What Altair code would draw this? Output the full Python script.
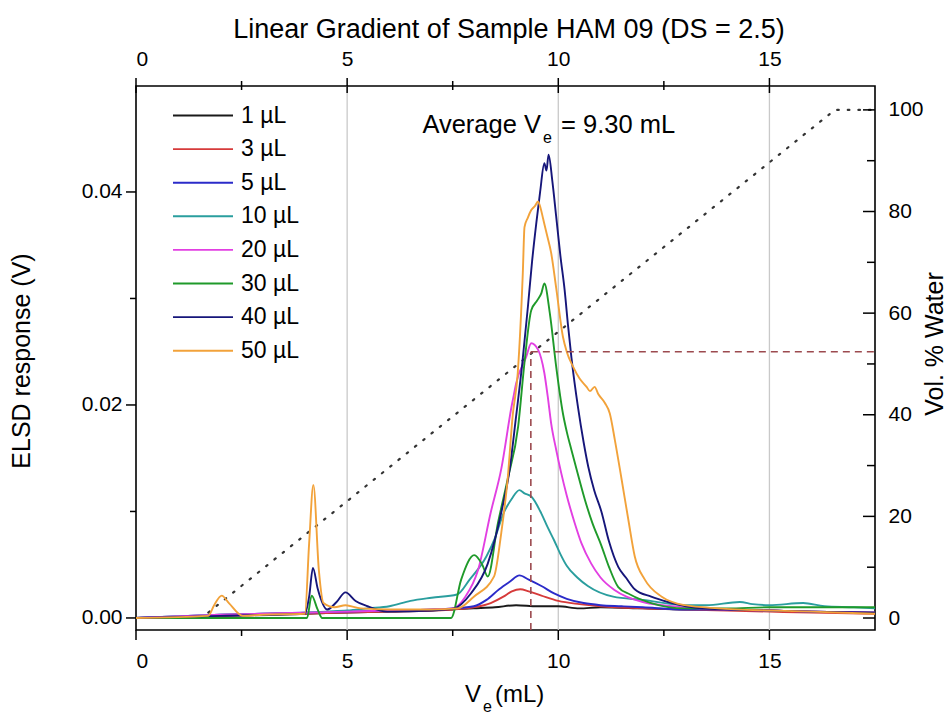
import altair as alt
import pandas as pd

FONT = "Liberation Sans"

# ---------------- data ----------------
series_names = ["1 µL", "3 µL", "5 µL", "10 µL", "20 µL", "30 µL", "40 µL", "50 µL"]
series_colors = ["#1a1a1a", "#d63a3a", "#2b2bc9", "#2a9e9e", "#e23fe2", "#1f9a2a", "#16167a", "#f2a23a"]

x_1 = [0, 1, 2, 3, 4, 5, 6, 7, 7.5, 8, 8.5, 9, 9.5, 10, 10.5, 11, 12, 13, 14, 15, 16, 17.5]
v_1 = [0.0000, 0.0001, 0.0002, 0.0003, 0.0004, 0.0005, 0.0006, 0.0007, 0.0008, 0.0009, 0.0010,
       0.0012, 0.0011, 0.0011, 0.0009, 0.0010, 0.0009, 0.0008, 0.0008, 0.0007, 0.0006, 0.0005]

x_3 = [0, 2, 4, 5, 6, 7, 7.5, 8, 8.4, 8.7, 8.9, 9.1, 9.3, 9.6, 10.0, 10.5, 11, 12, 13, 14, 15, 16, 17.5]
v_3 = [0.0000, 0.0002, 0.0004, 0.0005, 0.0006, 0.0007, 0.0008, 0.0010, 0.0014, 0.0020, 0.0025,
       0.0027, 0.0025, 0.0021, 0.0016, 0.0013, 0.0011, 0.0009, 0.0008, 0.0007, 0.0006, 0.0005, 0.0004]

x_5 = [0, 2, 4, 5, 6, 7, 7.5, 8.0, 8.3, 8.6, 8.85, 9.08, 9.3, 9.6, 9.9, 10.2, 10.6, 11.0, 11.5,
       12, 13, 14, 15, 16, 17.5]
v_5 = [0.0000, 0.0003, 0.0005, 0.0006, 0.0007, 0.0008, 0.0009, 0.0011, 0.0017, 0.0027, 0.0034,
       0.0040, 0.0036, 0.0030, 0.0023, 0.0018, 0.0014, 0.0012, 0.0011, 0.0010, 0.0008, 0.0008,
       0.0007, 0.0006, 0.0005]

x_10 = [0, 2, 3, 4, 4.5, 5, 5.5, 6, 6.5, 7, 7.6, 7.9, 8.3, 8.5, 8.7, 8.9, 9.08, 9.2, 9.36, 9.6,
        9.75, 9.9, 10.05, 10.2, 10.45, 10.7, 11.3, 12, 13, 13.5, 14.3, 14.6, 15, 15.8, 16.3, 17, 17.5]
v_10 = [0.0000, 0.0003, 0.0004, 0.0005, 0.0006, 0.0007, 0.0009, 0.0011, 0.0016, 0.0019, 0.0022,
        0.0036, 0.0058, 0.0075, 0.0098, 0.0112, 0.0120, 0.0117, 0.0114, 0.0098, 0.0085, 0.0073,
        0.0060, 0.0049, 0.0038, 0.0030, 0.0020, 0.0017, 0.0012, 0.0012, 0.0015, 0.0013, 0.0012,
        0.0014, 0.0011, 0.0010, 0.0009]

x_20 = [0, 2, 4, 5, 6, 7, 7.5, 7.8, 8.1, 8.4, 8.65, 8.9, 8.95, 9.0, 9.24, 9.36, 9.52, 9.67, 9.75,
        9.83, 9.95, 10.07, 10.2, 10.39, 10.55, 10.78, 11.0, 11.34, 12, 13, 14, 15, 16, 17.5]
v_20 = [0.0000, 0.0003, 0.0005, 0.0006, 0.0007, 0.0008, 0.0009, 0.0020, 0.0045, 0.0099, 0.0140,
        0.0200, 0.0210, 0.0220, 0.0245, 0.0258, 0.0252, 0.0230, 0.0208, 0.0183, 0.0158, 0.0136,
        0.0115, 0.0089, 0.0070, 0.0051, 0.0038, 0.0026, 0.0015, 0.0010, 0.0008, 0.0007, 0.0006,
        0.0005]

x_30 = [0, 4.05, 4.16, 4.3, 4.41, 7.46, 7.7, 8.01, 8.2, 8.33, 8.57, 8.8, 9.05, 9.2, 9.36, 9.5,
        9.6, 9.67, 9.8, 9.95, 10.11, 10.2, 10.31, 10.45, 10.63, 10.8, 11.02, 11.2, 11.42, 11.7,
        12.2, 13, 14, 15, 16, 17.5]
v_30 = [0.0000, 0.0000, 0.0021, 0.0008, 0.0000, 0.0000, 0.0036, 0.0059, 0.0050, 0.0039, 0.0089,
        0.0130, 0.0180, 0.0240, 0.0289, 0.0298, 0.0305, 0.0314, 0.0286, 0.0236, 0.0192, 0.0175,
        0.0158, 0.0137, 0.0111, 0.0090, 0.0068, 0.0048, 0.0029, 0.0022, 0.0014, 0.0009, 0.0009,
        0.0010, 0.0010, 0.0010]

x_40 = [0, 2, 4.0, 4.1, 4.19, 4.3, 4.53, 4.75, 4.96, 5.2, 5.48, 5.95, 7.0, 7.53, 7.93, 8.33, 8.65,
        8.85, 9.0, 9.15, 9.28, 9.38, 9.48, 9.57, 9.67, 9.72, 9.77, 9.86, 9.95, 10.05, 10.15, 10.23,
        10.31, 10.47, 10.6, 10.71, 10.85, 11.02, 11.2, 11.42, 11.6, 11.81, 12.2, 12.6, 13.4, 14,
        15, 16, 17.5]
v_40 = [0.0000, 0.0002, 0.0004, 0.0020, 0.0047, 0.0028, 0.0008, 0.0015, 0.0024, 0.0016, 0.0011,
        0.0006, 0.0007, 0.0009, 0.0023, 0.0051, 0.0099, 0.0140, 0.0189, 0.0240, 0.0292, 0.0335,
        0.0371, 0.0400, 0.0427, 0.0420, 0.0435, 0.0410, 0.0377, 0.0340, 0.0308, 0.0275, 0.0245,
        0.0197, 0.0165, 0.0142, 0.0120, 0.0100, 0.0072, 0.0048, 0.0038, 0.0027, 0.0020, 0.0015,
        0.0009, 0.0008, 0.0007, 0.0006, 0.0005]

x_50 = [0, 1.71, 1.85, 2.03, 2.2, 2.53, 3, 4.0, 4.1, 4.2, 4.33, 4.44, 4.7, 4.96, 5.32, 6, 7, 7.62,
        8.0, 8.48, 8.65, 8.8, 8.92, 9.04, 9.16, 9.2, 9.28, 9.36, 9.45, 9.52, 9.58, 9.64, 9.73, 9.83,
        9.95, 10.11, 10.2, 10.35, 10.5, 10.67, 10.75, 10.86, 10.95, 11.1, 11.22, 11.34, 11.5,
        11.66, 11.81, 12.05, 12.45, 13.0, 13.79, 15, 16, 17.5]
v_50 = [0.0000, 0.0002, 0.0012, 0.0021, 0.0014, 0.0002, 0.0003, 0.0004, 0.0070, 0.0125, 0.0045,
        0.0014, 0.0010, 0.0012, 0.0009, 0.0008, 0.0008, 0.0009, 0.0020, 0.0039, 0.0080, 0.0130,
        0.0190, 0.0230, 0.0324, 0.0367, 0.0376, 0.0383, 0.0387, 0.0391, 0.0385, 0.0375, 0.0360,
        0.0343, 0.0310, 0.0264, 0.0250, 0.0236, 0.0225, 0.0217, 0.0213, 0.0217, 0.0210, 0.0202,
        0.0192, 0.0167, 0.0130, 0.0092, 0.0058, 0.0036, 0.0020, 0.0012, 0.0009, 0.0007, 0.0006,
        0.0004]

series_x = [x_1, x_3, x_5, x_10, x_20, x_30, x_40, x_50]
series_v = [v_1, v_3, v_5, v_10, v_20, v_30, v_40, v_50]

# solvent gradient (right axis, % water)
grad_x = [0, 1.55, 16.55, 17.5]
grad_pct = [0, 0, 100, 100]

# average elution volume marker
ve_avg = [9.35]
water_at_ve = [52.4]

x_major = [0, 5, 10, 15]
x_minor = [2.5, 7.5, 12.5]
v_major = [0.00, 0.02, 0.04]
v_minor = [0.01, 0.03]
pct_major = [0, 20, 40, 60, 80, 100]
pct_minor = [10, 30, 50, 70, 90]

# ---------------- layout ----------------
W, H = 739, 544
X_DOM = [0, 17.5]
V_DOM = [-0.00113, 0.04995]
P_DOM = [-2.36, 104.7]

xs = alt.Scale(domain=X_DOM, nice=False, zero=False)
vs = alt.Scale(domain=V_DOM, nice=False, zero=False)
ps = alt.Scale(domain=P_DOM, nice=False, zero=False)

lab = dict(labelFont=FONT, labelFontSize=21, labelColor="black", ticks=False, tickSize=0,
           domain=False, grid=False, title=None)

bottom_axis = alt.Axis(orient="bottom", values=x_major, format="d", labelPadding=37,
                       labelBaseline="alphabetic", **lab)
top_axis = alt.Axis(orient="top", values=x_major, format="d", labelPadding=21,
                    labelBaseline="alphabetic", **lab)
left_axis = alt.Axis(orient="left", values=v_major, format=".2f", labelPadding=14, **lab)
right_axis = alt.Axis(orient="right", values=pct_major, format="d", labelPadding=13, **lab)

layers = []

# grid lines
grid_df = pd.DataFrame({"x": [5, 10, 15]})
layers.append(alt.Chart(grid_df).mark_rule(color="#c9c9c9", strokeWidth=1.3).encode(
    x=alt.X("x:Q", scale=xs, axis=None), y=alt.value(0), y2=alt.value(H)))

# gradient (right axis, top axis)
grad_df = pd.DataFrame({"x": grad_x, "pct": grad_pct})
layers.append(alt.Chart(grad_df).mark_line(color="#333333", strokeWidth=2.2,
                                           strokeDash=[1.6, 9], strokeCap="round").encode(
    x=alt.X("x:Q", scale=xs, axis=top_axis),
    y=alt.Y("pct:Q", scale=ps, axis=right_axis)))

# curves
for i, (name, xv, vv, col) in enumerate(zip(series_names, series_x, series_v, series_colors)):
    d = pd.DataFrame({"x": xv, "v": vv})
    layers.append(alt.Chart(d).mark_line(color=col, strokeWidth=1.9, interpolate="monotone").encode(
        x=alt.X("x:Q", scale=xs, axis=bottom_axis if i == 0 else None),
        y=alt.Y("v:Q", scale=vs, axis=left_axis if i == 0 else None)))

# dashed marker lines for the average elution volume
vdash = pd.DataFrame({"x": ve_avg, "p1": [P_DOM[0]], "p2": water_at_ve})
layers.append(alt.Chart(vdash).mark_rule(color="#9c4a4f", strokeWidth=1.6, strokeDash=[7, 5]).encode(
    x=alt.X("x:Q", scale=xs, axis=None),
    y=alt.Y("p1:Q", scale=ps, axis=None), y2="p2:Q"))
hdash = pd.DataFrame({"x1": ve_avg, "x2": [X_DOM[1]], "p": water_at_ve})
layers.append(alt.Chart(hdash).mark_rule(color="#9c4a4f", strokeWidth=1.6, strokeDash=[7, 5]).encode(
    x=alt.X("x1:Q", scale=xs, axis=None), x2="x2:Q",
    y=alt.Y("p:Q", scale=ps, axis=None)))

# ticks
def xticks(vals, y0, y1):
    return alt.Chart(pd.DataFrame({"x": vals})).mark_rule(color="black", strokeWidth=1.5).encode(
        x=alt.X("x:Q", scale=xs, axis=None), y=alt.value(y0), y2=alt.value(y1))

layers += [xticks(x_major, H, H + 10), xticks(x_minor, H, H + 6),
           xticks(x_major, -8, 7), xticks(x_minor, -5, 4)]

layers.append(alt.Chart(pd.DataFrame({"v": v_major})).mark_rule(color="black", strokeWidth=1.5).encode(
    y=alt.Y("v:Q", scale=vs, axis=None), x=alt.value(-10), x2=alt.value(0)))
layers.append(alt.Chart(pd.DataFrame({"v": v_minor})).mark_rule(color="black", strokeWidth=1.5).encode(
    y=alt.Y("v:Q", scale=vs, axis=None), x=alt.value(-6), x2=alt.value(0)))
layers.append(alt.Chart(pd.DataFrame({"p": pct_major})).mark_rule(color="black", strokeWidth=1.5).encode(
    y=alt.Y("p:Q", scale=ps, axis=None), x=alt.value(W - 12), x2=alt.value(W)))
layers.append(alt.Chart(pd.DataFrame({"p": pct_minor})).mark_rule(color="black", strokeWidth=1.5).encode(
    y=alt.Y("p:Q", scale=ps, axis=None), x=alt.value(W - 8), x2=alt.value(W)))

# legend (inside the plot, top-left)
leg_df = pd.DataFrame({"name": series_names, "idx": list(range(len(series_names))),
                       "col": series_colors})
leg_base = alt.Chart(leg_df).transform_calculate(ly="29.5 + 33.6 * datum.idx")
layers.append(leg_base.mark_rule(strokeWidth=1.9).encode(
    x=alt.value(37), x2=alt.value(97), y=alt.Y("ly:Q", scale=None, axis=None),
    color=alt.Color("col:N", scale=None, legend=None)))
layers.append(leg_base.mark_text(align="left", baseline="middle", font=FONT, fontSize=23,
                                 color="black").encode(
    x=alt.value(105), y=alt.Y("ly:Q", scale=None, axis=None), text="name:N"))

# texts
def txt(s, x, y, size, align="center", baseline="alphabetic", angle=0):
    return alt.Chart(pd.DataFrame({"t": [s]})).mark_text(
        align=align, baseline=baseline, font=FONT, fontSize=size, color="black", angle=angle
    ).encode(x=alt.value(x), y=alt.value(y), text="t:N")

layers += [
    txt("Linear Gradient of Sample HAM 09 (DS = 2.5)", 373, -48, 27),
    txt("Average V", 405, 46.5, 25.5, align="right"),
    txt("e", 407, 57, 16, align="left"),
    txt("= 9.30 mL", 425, 46.5, 25.5, align="left"),
    txt("V", 345, 616, 24, align="right"),
    txt("e", 347, 626, 16, align="left"),
    txt("(mL)", 359, 616, 24, align="left"),
    txt("ELSD response (V)", -114, 275, 25, baseline="middle", angle=270),
    txt("Vol. % Water", 799, 258, 25, baseline="middle", angle=270),
]

chart = alt.layer(*layers).resolve_scale(y="independent").resolve_axis(
    x="independent", y="independent"
).properties(
    width=W, height=H,
    autosize=alt.AutoSizeParams(type="none"),
    padding={"left": 136, "top": 86, "right": 75, "bottom": 86},
    background="white",
).configure_view(stroke="black", strokeWidth=1.6)

chart.save("out.html", embed_options={"renderer": "svg", "actions": False})
